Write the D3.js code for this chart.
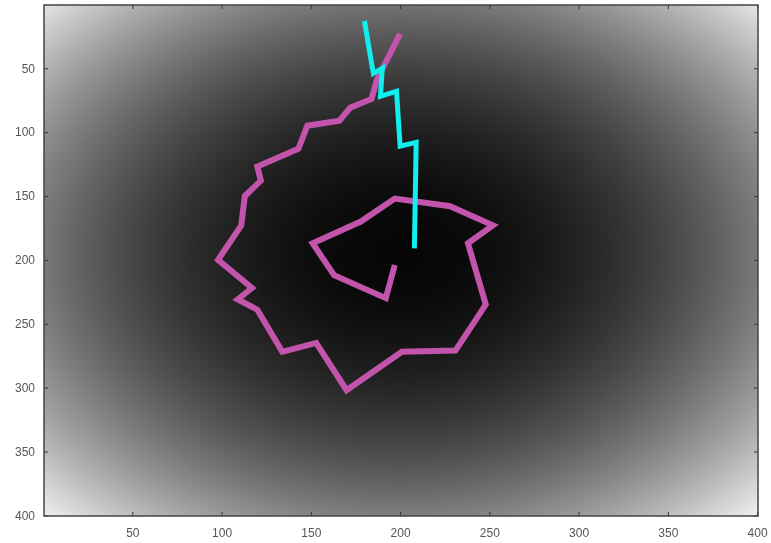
<!DOCTYPE html>
<html>
<head>
<meta charset="utf-8">
<script src="https://d3js.org/d3.v7.min.js"></script>
<style>
  body { margin: 0; background: #fff; }
  #wrap { position: relative; width: 771px; height: 543px; }
  canvas, svg { position: absolute; left: 0; top: 0; }
  .axis text { font-family: "Liberation Sans", Arial, sans-serif; font-size: 12px; fill: #555; }
  .axis path { display: none; }
  .axis line { stroke: #333; }
</style>
</head>
<body>
<div id="wrap"></div>
<script>
// ticks shown on both axes
var xTicks = [50, 100, 150, 200, 250, 300, 350, 400];
var yTicks = [50, 100, 150, 200, 250, 300, 350, 400];

// background surface: squared distance from the minimum, shown in gray
var surfCenterX = 200;
var surfCenterY = 195;

// magenta path
var magX = [200, 187, 184, 172, 166, 148, 143, 120, 122, 113, 111, 98, 117, 109, 120, 134, 153, 170, 201, 231, 248, 238, 252, 228, 197, 178, 151, 163, 192, 197];
var magY = [23, 59, 74, 81, 91, 95, 113, 127, 138, 150, 173, 200, 222, 231, 239, 272, 265, 302, 272, 271, 235, 187, 173, 158, 152, 170, 187, 212, 230, 204];

// cyan path
var cyaX = [180, 185, 190, 189, 198, 200, 209, 208];
var cyaY = [13, 54, 50, 72, 68, 111, 108, 191];

var W = 771, H = 543;
var margin = {top: 5, right: 13, bottom: 27, left: 44};

var x = d3.scaleLinear().domain([0.5, 400.5]).range([margin.left, W - margin.right]);
var y = d3.scaleLinear().domain([0.5, 400.5]).range([margin.top, H - margin.bottom]);

var wrap = d3.select("#wrap");

// ---- gradient image on a canvas
var canvas = wrap.append("canvas").attr("width", W).attr("height", H).node();
var ctx = canvas.getContext("2d");
var x0 = Math.round(x.range()[0]), x1 = Math.round(x.range()[1]);
var y0 = Math.round(y.range()[0]), y1 = Math.round(y.range()[1]);
var maxD = d3.max([[0.5, 0.5], [400.5, 0.5], [0.5, 400.5], [400.5, 400.5]], function(c) {
  return Math.pow(c[0] - surfCenterX, 2) + Math.pow(c[1] - surfCenterY, 2);
});
var gray = d3.scaleLinear().domain([0, maxD]).range([6, 242]).clamp(true);
var img = ctx.createImageData(x1 - x0, y1 - y0);
for (var j = 0; j < y1 - y0; j++) {
  var dy = y.invert(y0 + j + 0.5) - surfCenterY;
  for (var i = 0; i < x1 - x0; i++) {
    var dx = x.invert(x0 + i + 0.5) - surfCenterX;
    var g = gray(dx * dx + dy * dy);
    var k = (j * (x1 - x0) + i) * 4;
    img.data[k] = g; img.data[k + 1] = g; img.data[k + 2] = g; img.data[k + 3] = 255;
  }
}
ctx.putImageData(img, x0, y0);

// ---- svg overlay
var svg = wrap.append("svg").attr("width", W).attr("height", H);

var line = d3.line()
    .x(function(d) { return x(d[0]); })
    .y(function(d) { return y(d[1]); });

svg.append("path")
    .datum(d3.zip(magX, magY))
    .attr("d", line)
    .attr("fill", "none")
    .attr("stroke", "#c254ac")
    .attr("stroke-width", 6)
    .attr("stroke-linejoin", "miter");

svg.append("path")
    .datum(d3.zip(cyaX, cyaY))
    .attr("d", line)
    .attr("fill", "none")
    .attr("stroke", "#10eeee")
    .attr("stroke-width", 5)
    .attr("stroke-linejoin", "miter");

// axes, ticks pointing inward, mirrored on top / right
svg.append("g").attr("class", "axis")
    .attr("transform", "translate(0," + y.range()[1] + ")")
    .call(d3.axisBottom(x).tickValues(xTicks).tickSizeInner(-4).tickPadding(12));
svg.append("g").attr("class", "axis")
    .attr("transform", "translate(" + x.range()[0] + ",0)")
    .call(d3.axisLeft(y).tickValues(yTicks).tickSizeInner(-4).tickPadding(9));
svg.append("g").attr("class", "axis")
    .attr("transform", "translate(0," + y.range()[0] + ")")
    .call(d3.axisTop(x).tickValues(xTicks).tickSizeInner(-4).tickFormat(""));
svg.append("g").attr("class", "axis")
    .attr("transform", "translate(" + x.range()[1] + ",0)")
    .call(d3.axisRight(y).tickValues(yTicks).tickSizeInner(-4).tickFormat(""));

svg.append("rect")
    .attr("x", x.range()[0]).attr("y", y.range()[0])
    .attr("width", x.range()[1] - x.range()[0])
    .attr("height", y.range()[1] - y.range()[0])
    .attr("fill", "none")
    .attr("stroke", "#444")
    .attr("stroke-width", 1.5);
</script>
</body>
</html>
